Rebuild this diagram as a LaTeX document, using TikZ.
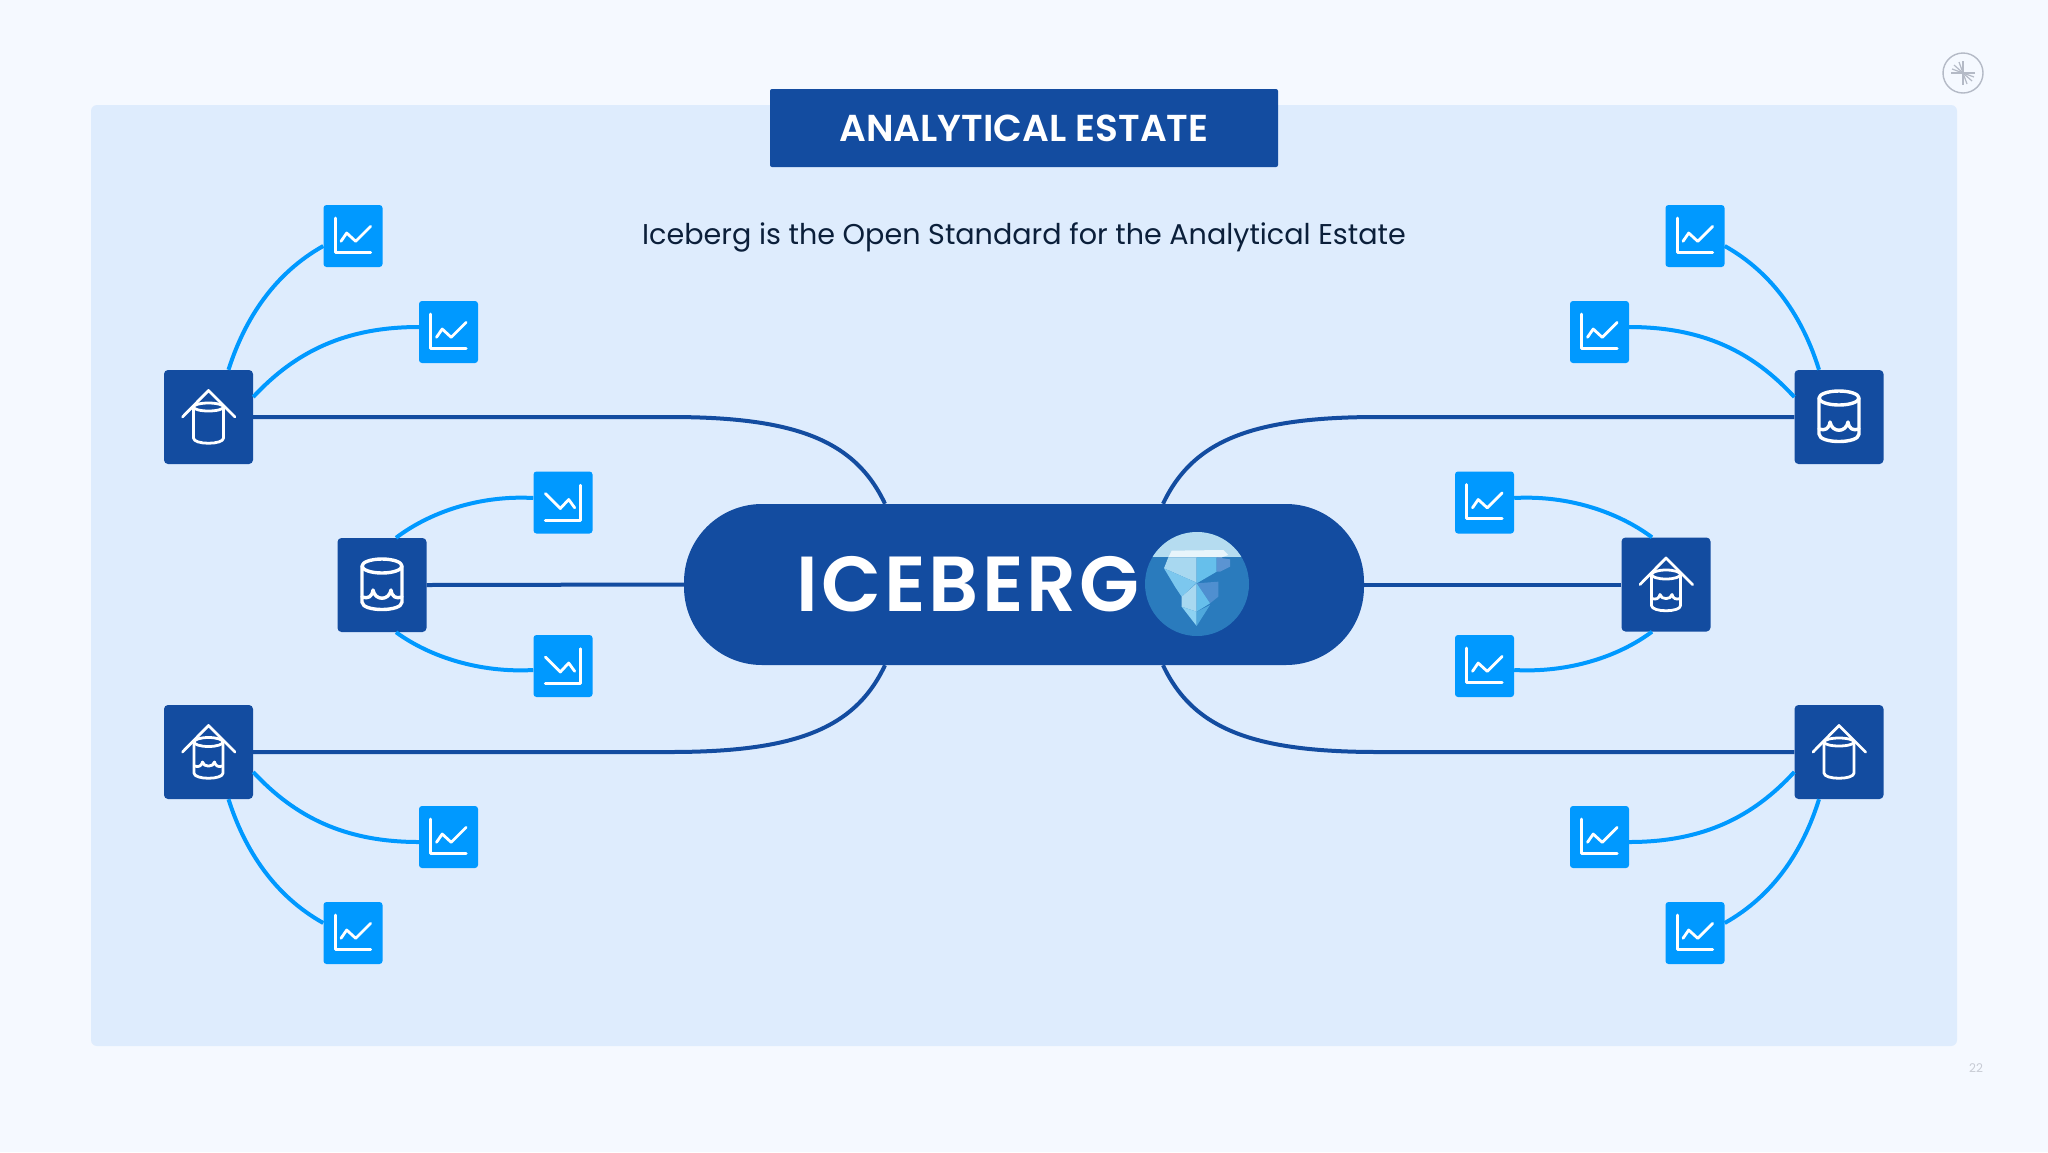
\documentclass[tikz,border=0pt]{standalone}
\usepackage{fontspec}
\setmainfont{Poppins}
\newfontfamily\semifont{Poppins SemiBold}
\definecolor{pagebg}{HTML}{F5F9FF}
\definecolor{panelbg}{HTML}{DEECFD}
\definecolor{navy}{HTML}{134CA0}
\definecolor{sky}{HTML}{0099FF}
\definecolor{inktext}{HTML}{0B1F3A}
\definecolor{logogray}{HTML}{B4BAC6}
\definecolor{globedeep}{RGB}{42,123,189}
\definecolor{globesky}{RGB}{181,220,240}
\definecolor{bergsnow}{RGB}{232,245,251}
\definecolor{bergpale}{RGB}{168,216,240}
\definecolor{bergmid}{RGB}{102,191,235}
\definecolor{bergdim}{RGB}{91,148,210}
\definecolor{bergsoft}{RGB}{124,199,238}
\definecolor{bergdeep}{RGB}{79,143,208}
\definecolor{bergtip}{RGB}{141,210,242}
\definecolor{bergedge}{RGB}{79,168,220}
\newcommand{\IconChart}[1]{\begin{scope}[shift={(#1.center)},icon line]
 \draw (-17.7,-18) -- (-17.7,16.3) -- (17.6,16.3);
 \draw (-12,5.3) -- (-6.3,-3) -- (2.7,5.3) -- (17.7,-9.7);
\end{scope}}
\newcommand{\IconChartDown}[1]{\begin{scope}[shift={(#1.center)},icon line]
 \draw (17.3,-17.3) -- (17.3,17.7) -- (-17.7,17.7);
 \draw (-17.7,-9) -- (-2.7,6) -- (5.7,-3) -- (11.7,5.3);
\end{scope}}
\newcommand{\IconRoof}{\draw (-26,0) -- (0,-26.5) -- (26.5,0);}
\newcommand{\IconWaterSmall}{\draw (-14,14) .. controls (-10,15.5) and (-7,14) .. (-6,10) .. controls (-5,15.5) and (5,15.5) .. (6,10) .. controls (7,14) and (10,15.5) .. (14,14);}
\newcommand{\IconSilo}[1]{\begin{scope}[shift={(#1.center)},icon line]
 \IconRoof
 \draw (0,-10) ellipse [x radius=15,y radius=4];
 \draw (-15,-10) -- (-15,21) .. controls (-15,28) and (15,28) .. (15,21) -- (15,-10);
\end{scope}}
\newcommand{\IconSiloWater}[1]{\begin{scope}[shift={(#1.center)},icon line]
 \IconRoof
 \draw (0,-10) ellipse [x radius=14.5,y radius=4.5];
 \draw (-14.5,-10) -- (-14.5,21) .. controls (-14.5,28) and (14.5,28) .. (14.5,21) -- (14.5,-10);
 \IconWaterSmall
\end{scope}}
\newcommand{\IconTank}[1]{\begin{scope}[shift={(#1.center)},icon line,line width=3.4pt]
 \draw (0,-19) ellipse [x radius=20,y radius=7];
 \draw (-20,-19) -- (-20,17) .. controls (-20,27) and (20,27) .. (20,17) -- (20,-19);
 \draw (-20,12) .. controls (-14,14) and (-10,12) .. (-9,5) .. controls (-7,16) and (7,16) .. (9,5) .. controls (10,12) and (14,14) .. (20,12);
\end{scope}}
\tikzset{
 x=1pt,y=-1pt,
 hub/.style={fill=navy,rounded corners=4pt,minimum width=89pt,minimum height=94pt,inner sep=0pt,draw=none},
 leaf/.style={fill=sky,rounded corners=3pt,minimum width=59pt,minimum height=62pt,inner sep=0pt,draw=none},
 icon line/.style={draw=white,line width=2.8pt,line cap=round,line join=round},
 trunk/.style={draw=navy,line width=4pt},
 twig/.style={draw=sky,line width=4pt},
}
\begin{document}
\begin{tikzpicture}
\fill[pagebg] (0,0) rectangle (2048,1152);
\useasboundingbox (0,0) rectangle (2048,1152);
\node[fill=panelbg,rounded corners=6pt,minimum width=1866pt,minimum height=941pt,inner sep=0pt] (panel) at (1024,575.5) {};
\node[fill=navy,rounded corners=78pt,minimum width=680pt,minimum height=161pt,inner sep=0pt] (pill) at (1024,584.5) {};
\node[fill=navy,rounded corners=2pt,minimum width=508pt,minimum height=78pt,inner sep=0pt,text=white,font=\semifont\fontsize{37.5}{40}\selectfont] (title) at (1024,128) {\raisebox{-1.5pt}{ANALYTICAL ESTATE}};
\node[text=inktext,inner sep=0pt,font=\fontsize{28.6}{36}\selectfont] (subtitle) at (1024,237) {Iceberg is the Open Standard for the Analytical Estate};
\node[text=white,inner sep=0pt,font=\semifont\fontsize{78}{90}\selectfont\addfontfeatures{LetterSpace=4}] (iceberg) at (968,584) {ICEBERG};
% globe
\node[inner sep=0pt,minimum size=0pt] (globe) at (1197,584) {};
\begin{scope}[shift={(globe.center)}]
 \fill[globedeep] (0,0) circle [radius=52];
 \begin{scope}
  \clip (0,0) circle [radius=52];
  \fill[globesky] (-60,-60) rectangle (60,-27);
 \end{scope}
\end{scope}
\begin{scope}[shift={(1100,500)},x=0.3333pt,y=-0.3333pt]
 \fill[bergsnow] (205,172) -- (215,152) -- (370,150) -- (385,165) -- (365,172) -- cycle;
 \fill[bergpale] (205,172) -- (290,172) -- (290,248) -- (192,205) -- cycle;
 \fill[bergmid] (290,172) -- (350,172) -- (350,215) -- (290,250) -- cycle;
 \fill[bergdim] (350,172) -- (390,178) -- (390,200) -- (360,215) -- (350,215) -- cycle;
 \fill[bergsoft] (192,205) -- (290,248) -- (245,290) -- (225,260) -- cycle;
 \fill[bergpale] (245,290) -- (290,250) -- (290,335) -- (245,320) -- cycle;
 \fill[bergdeep] (290,250) -- (355,245) -- (355,290) -- (330,310) -- cycle;
 \fill[bergmid] (290,250) -- (330,310) -- (290,335) -- cycle;
 \fill[bergtip] (245,320) -- (290,335) -- (290,378) -- cycle;
 \fill[bergedge] (290,335) -- (330,315) -- (290,378) -- cycle;
\end{scope}
% hubs
\node[hub] (hubTL) at (208.5,417) {};
\node[hub] (hubML) at (382,585) {};
\node[hub] (hubBL) at (208.5,752) {};
\node[hub] (hubTR) at (1839,417) {};
\node[hub] (hubMR) at (1666,584.5) {};
\node[hub] (hubBR) at (1839,752) {};
% leaves
\node[leaf] (a1) at (353,236) {};
\node[leaf] (a2) at (448.5,332) {};
\node[leaf] (b1) at (563,502.5) {};
\node[leaf] (b2) at (563,666) {};
\node[leaf] (c1) at (448.5,837) {};
\node[leaf] (c2) at (353,933) {};
\node[leaf] (d1) at (1695,236) {};
\node[leaf] (d2) at (1599.5,332) {};
\node[leaf] (e1) at (1484.5,502.5) {};
\node[leaf] (e2) at (1484.5,666) {};
\node[leaf] (f1) at (1599.5,837) {};
\node[leaf] (f2) at (1695,933) {};
% trunk connectors
\coordinate (pNW) at ([xshift=-139pt]pill.north);
\coordinate (pNE) at ([xshift=139pt]pill.north);
\coordinate (pSW) at ([xshift=-139pt]pill.south);
\coordinate (pSE) at ([xshift=139pt]pill.south);
\draw[trunk] (hubTL.east) -- (670,417) .. controls (795,417) and (855,440) .. (pNW);
\draw[trunk] (hubBL.east) -- (670,752) .. controls (795,752) and (855,729) .. (pSW);
\draw[trunk] (hubTR.west) -- (1378,417) .. controls (1253,417) and (1193,440) .. (pNE);
\draw[trunk] (hubBR.west) -- (1378,752) .. controls (1253,752) and (1193,729) .. (pSE);
\draw[trunk] (hubML.east) -- (pill.west);
\draw[trunk] (hubMR.west) -- (pill.east);
% leaf connectors
\draw[twig] ([yshift=-10pt]a1.west) .. controls (275,273) and (245,318) .. ([xshift=20pt]hubTL.north);
\draw[twig] ([yshift=5pt]a2.west) .. controls (345,327) and (295,352) .. ([yshift=20pt]hubTL.east);
\draw[twig] ([yshift=4.5pt]b1.west) .. controls (480,495) and (430,512) .. ([xshift=14pt]hubML.north);
\draw[twig] ([yshift=-4pt]b2.west) .. controls (480,673) and (430,657) .. ([xshift=14pt]hubML.south);
\draw[twig] ([yshift=-5pt]c1.west) .. controls (345,842) and (295,817) .. ([yshift=-20pt]hubBL.east);
\draw[twig] ([yshift=10pt]c2.west) .. controls (275,896) and (245,851) .. ([xshift=20pt]hubBL.south);
\draw[twig] ([yshift=-10pt]d1.east) .. controls (1773,273) and (1803,318) .. ([xshift=-20pt]hubTR.north);
\draw[twig] ([yshift=5pt]d2.east) .. controls (1703,327) and (1753,352) .. ([yshift=20pt]hubTR.west);
\draw[twig] ([yshift=4.5pt]e1.east) .. controls (1568,495) and (1618,512) .. ([xshift=-14pt]hubMR.north);
\draw[twig] ([yshift=-4pt]e2.east) .. controls (1568,673) and (1618,657) .. ([xshift=-14pt]hubMR.south);
\draw[twig] ([yshift=-5pt]f1.east) .. controls (1703,842) and (1753,817) .. ([yshift=-20pt]hubBR.west);
\draw[twig] ([yshift=10pt]f2.east) .. controls (1773,896) and (1803,851) .. ([xshift=-20pt]hubBR.south);
% icons
\IconSilo{hubTL}
\IconTank{hubML}
\IconSiloWater{hubBL}
\IconTank{hubTR}
\IconSiloWater{hubMR}
\IconSilo{hubBR}
\IconChart{a1}\IconChart{a2}\IconChartDown{b1}\IconChartDown{b2}\IconChart{c1}\IconChart{c2}
\IconChart{d1}\IconChart{d2}\IconChart{e1}\IconChart{e2}\IconChart{f1}\IconChart{f2}
% logo
\node[circle,draw=logogray,line width=1.4pt,minimum size=40pt,inner sep=0pt] (logo) at (1963,73) {};
\begin{scope}[shift={(logo.center)},draw=logogray,line width=1.2pt]
 \draw (-12,0) -- (12,0);
 \draw (0,-12) -- (0,12);
 \draw (0,0) -- (-11,-4); \draw (0,0) -- (-9,-8); \draw (0,0) -- (-4,-11);
 \draw (0,0) -- (11,4); \draw (0,0) -- (9,8); \draw (0,0) -- (4,11);
\end{scope}
\node[text=logogray!75,inner sep=0pt,font=\fontsize{12}{14}\selectfont] (pageno) at (1976,1068.5) {22};
\end{tikzpicture}
\end{document}
